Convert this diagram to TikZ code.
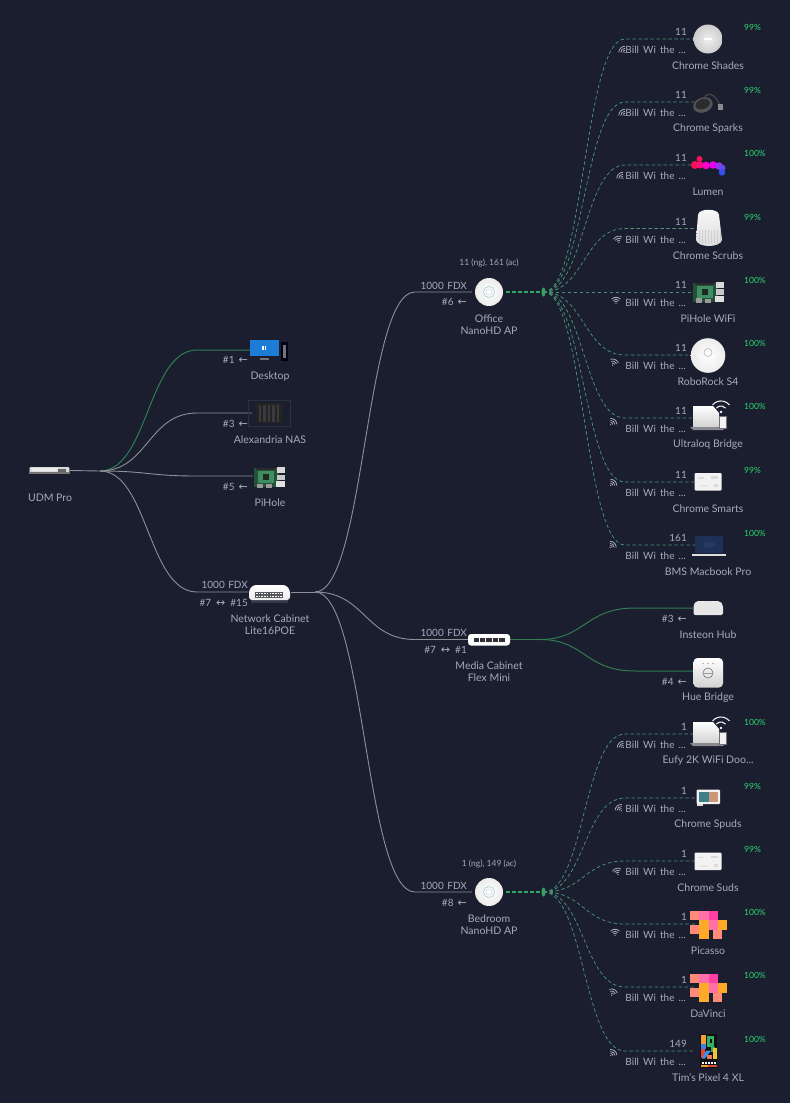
\documentclass[tikz,border=0pt]{standalone}
\usepackage{fontspec}
\setmainfont{Lato}
\newfontfamily\arrowfont{DejaVu Sans}
\usetikzlibrary{calc}
\definecolor{bgc}{HTML}{1A1E2E}
\definecolor{txt}{HTML}{A6AABC}
\definecolor{wire}{HTML}{8E9098}
\definecolor{gwire}{HTML}{2F7D52}
\definecolor{dwire}{HTML}{4A9274}
\definecolor{rootg}{HTML}{2FA865}
\definecolor{pct}{HTML}{2ED573}
\tikzset{
  x=1pt,y=-1pt,
  hx/.code={\definecolor{tmpc}{HTML}{#1}\pgfkeysalso{/tikz/color=tmpc}},
  lbl/.style={text=txt,font=\fontsize{10.5}{12}\selectfont,inner sep=0pt,anchor=center,yshift=-1pt},
  small/.style={text=txt,font=\fontsize{10}{11}\selectfont,inner sep=0pt},
  note/.style={text=txt,font=\fontsize{8.5}{10}\selectfont,inner sep=0pt,anchor=center},
  pctlbl/.style={text=pct,font=\fontsize{8.5}{10}\selectfont,inner sep=0pt,anchor=west},
  portlbl/.style={small,anchor=east,yshift=-0.7pt},
  iconbox/.style={inner sep=0pt,minimum width=#1,minimum height=6pt},
  link/.style={wire,line width=0.9pt},
  glink/.style={gwire,line width=1pt},
  dlink/.style={dwire,line width=0.75pt,dash pattern=on 3.5pt off 2.5pt},
  droot/.style={rootg,line width=1.1pt,dash pattern=on 4pt off 2pt},
  wifiarc/.style={txt,line width=0.8pt},
}
% wifi fan, centred at #1,#2, rotated by #3
\newcommand{\wifi}[3]{\begin{scope}[shift={(#1,#2)},rotate=#3]
\fill[txt] (0,3.5) circle (0.7pt);
\foreach \r in {2.2,4.2,6.2}{\draw[wifiarc] (-\r*0.707,3.5-\r*0.707) arc[start angle=135,end angle=45,radius=\r pt];}
\end{scope}}
% client with dashed link
\newcommand{\client}[9]{% id, root, y, count, percent, name, wifi x, wifi y, wifi rot
  \node[iconbox=26pt] (#1) at (708,#3) {};
  \draw[dlink] (#2.center) .. controls (584,\csname root#2\endcsname) and (584,#3) .. (625,#3) -- (#1.west);
  \node[small,anchor=east] (#1c) at (687,#3-7) {#4};
  \node[small,anchor=east] (#1b) at (686,#3+11) {Bill\hspace{4.2pt}Wi\hspace{4.2pt}the\hspace{4.2pt}...};
  \node[pctlbl] (#1p) at (744,#3-11.5) {#5};
  \node[lbl] (#1l) at (708,#3+26) {#6};
  \wifi{#7}{#8}{#9}
}
\def\rootofficeknot{292}
\def\rootbedknot{892}
\newcommand{\larrow}{{\arrowfont\fontsize{11}{11}\selectfont ←}}
\newcommand{\barrow}{{\arrowfont\fontsize{11}{11}\selectfont ↔}}
\newcommand{\portarrow}[4]{\node[portlbl] (#1) at (#2,#3) {#4\hspace{4pt}\larrow};}
\begin{document}
\begin{tikzpicture}
\useasboundingbox (0,0) rectangle (790,1103);
\fill[bgc] (0,0) rectangle (790,1103);

% === node anchors ===
\node[iconbox=41pt] (udm) at (49.5,470.5) {};
\coordinate (udmfan) at (100,471);
\node[iconbox=38pt] (desk) at (269,350) {};
\node[iconbox=38pt] (nas) at (271,413) {};
\node[iconbox=32pt] (pi) at (269,476) {};
\node[iconbox=42pt] (net) at (269.5,592) {};
\coordinate (netfan) at (315,592);
\node[iconbox=34pt] (office) at (489,292) {};
\node[iconbox=42pt] (media) at (489,639.5) {};
\node[iconbox=34pt] (bed) at (489,892) {};
\node[inner sep=0pt,minimum size=3pt] (officeknot) at (543.5,292) {};
\node[inner sep=0pt,minimum size=3pt] (bedknot) at (543.5,892) {};
\coordinate (mediafan) at (540,639.5);
\node[iconbox=30pt] (inst) at (708,608) {};
\node[iconbox=30pt] (hue) at (708,671) {};

% === wired links ===
\draw[link] (udm.east) -- (udmfan);
\draw[glink] (udmfan) .. controls (148,471) and (148,350) .. (197,350) -- (desk.west);
\draw[link] (udmfan) .. controls (148,471) and (148,413) .. (197,413) -- (nas.west);
\draw[link] (udmfan) .. controls (148,471) and (148,476) .. (197,476) -- (pi.west);
\draw[link] (udmfan) .. controls (148,471) and (148,592) .. (197,592) -- (net.west);
\draw[link] (net.east) -- (netfan);
\draw[link] (netfan) .. controls (365,592) and (365,292) .. (415,292) -- (office.west);
\draw[link] (netfan) .. controls (365,592) and (365,639.5) .. (415,639.5) -- (media.west);
\draw[link] (netfan) .. controls (365,592) and (365,892) .. (415,892) -- (bed.west);
\draw[glink,line width=1.3pt] (media.east) -- (mediafan);
\draw[glink] (mediafan) .. controls (585,639.5) and (585,608) .. (635,608) -- (inst.west);
\draw[glink] (mediafan) .. controls (585,639.5) and (585,671) .. (635,671) -- (hue.west);
\draw[droot] (office.east) -- (officeknot);
\draw[droot] (bed.east) -- (bedknot);
\fill[rootg] (officeknot) ellipse (2pt and 4.5pt);
\fill[rootg] (bedknot) ellipse (2pt and 4.5pt);

% === wired clients, labels ===
\node[lbl] (udml) at (50,497) {UDM Pro};
\portarrow{deskp}{248}{359}{\#1}
\node[lbl] (deskl) at (270,376) {Desktop};
\portarrow{nasp}{248}{423}{\#3}
\node[lbl] (nasl) at (270,439) {Alexandria NAS};
\portarrow{pip}{248}{486}{\#5}
\node[lbl] (pil) at (270,502) {PiHole};
\node[portlbl] (nets) at (248,584) {1000\hspace{3.5pt}FDX};
\node[portlbl] (netp) at (248,602) {\#7\hspace{5pt}\barrow\hspace{5pt}\#15};
\node[lbl] (netl) at (270,618) {Network Cabinet};
\node[lbl] (netm) at (270,630) {Lite16POE};
\node[note] (offc) at (489,262.5) {11 (ng), 161 (ac)};
\node[portlbl] (offs) at (467,285) {1000\hspace{3.5pt}FDX};
\portarrow{offp}{467}{301}{\#6}
\node[lbl] (offl) at (489,318) {Office};
\node[lbl] (offm) at (489,329.5) {NanoHD AP};
\node[portlbl] (meds) at (467,632.5) {1000\hspace{3.5pt}FDX};
\node[portlbl] (medp) at (467,649.5) {\#7\hspace{5pt}\barrow\hspace{5pt}\#1};
\node[lbl] (medl) at (489,665) {Media Cabinet};
\node[lbl] (medm) at (489,677) {Flex Mini};
\node[note] (bedc) at (489,863.5) {1 (ng), 149 (ac)};
\node[portlbl] (beds) at (467,885) {1000\hspace{3.5pt}FDX};
\portarrow{bedp}{467}{902}{\#8}
\node[lbl] (bedl) at (489,918) {Bedroom};
\node[lbl] (bedm) at (489,930) {NanoHD AP};
\portarrow{instp}{687}{618}{\#3}
\node[lbl] (instl) at (708,634) {Insteon Hub};
\portarrow{huep}{687}{681}{\#4}
\node[lbl] (huel) at (708,697) {Hue Bridge};

% === wireless clients ===
\client{c1}{officeknot}{39}{11}{99\%}{Chrome Shades}{622.5}{50}{45}
\client{c2}{officeknot}{102}{11}{99\%}{Chrome Sparks}{622.5}{113}{45}
\client{c3}{officeknot}{165}{11}{100\%}{Lumen}{620.5}{176}{45}
\client{c4}{officeknot}{228.5}{11}{99\%}{Chrome Scrubs}{618}{239}{15}
\client{c5}{officeknot}{292}{11}{100\%}{PiHole WiFi}{616}{300}{0}
\client{c6}{officeknot}{355}{11}{100\%}{RoboRock S4}{614}{362}{-25}
\client{c7}{officeknot}{418}{11}{100\%}{Ultraloq Bridge}{613}{422}{-42}
\client{c8}{officeknot}{482}{11}{99\%}{Chrome Smarts}{613}{483}{-45}
\client{c9}{officeknot}{545}{161}{100\%}{BMS Macbook Pro}{612.5}{545}{-45}
\client{d1}{bedknot}{734}{1}{100\%}{Eufy 2K WiFi Doo...}{621}{745}{45}
\client{d2}{bedknot}{798}{1}{99\%}{Chrome Spuds}{619}{808}{40}
\client{d3}{bedknot}{861}{1}{99\%}{Chrome Suds}{617}{871}{15}
\client{d4}{bedknot}{924}{1}{100\%}{Picasso}{615}{932}{0}
\client{d5}{bedknot}{987}{1}{100\%}{DaVinci}{613}{992}{-25}
\client{d6}{bedknot}{1051}{149}{100\%}{Tim's Pixel 4 XL}{613}{1053}{-40}

% === icons ===
\begin{scope}[shift={(29,466)}]% UDM
\fill[black!55] (0,2) rectangle (41,7.5);
\fill[white!70!gray] (1,1) rectangle (40,6.3);
\fill[white!85!gray] (3,1.5) rectangle (28,5);
\fill[black!60] (29,3) rectangle (37,5.5);
\end{scope}
% Desktop
\fill[black!90!blue] (281,342) rectangle (288,361);
\fill[black!55] (283,345) rectangle (286,358);
\fill[hx=1C7CD6] (250,340) rectangle (279,356);
\fill[black!55] (260,358) rectangle (269,359.5);
\fill[white] (262,346) rectangle (266,350);
\fill[hx=1C7CD6] (263.8,345) rectangle (264.2,351);
% NAS
\draw[hx=2C3040,line width=0.5pt] (248,400) rectangle (290,426);
\fill[hx=232325] (256,403) rectangle (283,423);
\foreach \i in {258.5,263,267.5,272,276.5}{\fill[hx=3A3A3C] (\i,405) rectangle (\i+2.8,422);}
% Raspberry Pi
\newcommand{\rpi}[2]{\begin{scope}[shift={(#1,#2)}]
\fill[hx=25503A] (0,1) rectangle (25,20);
\fill[hx=3E8E62] (4,4) rectangle (20,16);
\fill[hx=2A2A2A] (2,1) rectangle (21,3);
\fill[hx=1F2A24] (9,7) rectangle (15,13);
\fill[hx=D8D8D8] (23,0) rectangle (31,6);
\fill[hx=C8C8C8] (23,7.5) rectangle (31,13);
\fill[hx=E0E0E0] (22,14) rectangle (31,20);
\fill[hx=9A9A9A] (3,16.5) rectangle (9,21);
\fill[hx=9A9A9A] (12,17) rectangle (18,21);
\end{scope}}
\rpi{254}{467}
% Network switch
\shade[top color=white,bottom color=white!85!gray,rounded corners=3pt] (249,600) -- (249,590) -- (253,585) -- (286,585) -- (290,590) -- (290,600) -- cycle;
\fill[white,opacity=.12] (251,600) rectangle (288,603);
\fill[hx=55585E] (255,592) rectangle (283,598);
\foreach \i in {256,258.7,...,281}{\fill[white!70] (\i,593) rectangle (\i+1.6,594.3);\fill[white!70] (\i,595.5) rectangle (\i+1.6,596.8);}
% AP circles
\newcommand{\apicon}[2]{\shade[inner color=white,outer color=white!85!gray] (#1,#2) circle (14pt);
\draw[hx=A8CBD8,line width=0.6pt] (#1,#2) circle (5.5pt);
\draw[hx=C8DDE6,line width=0.5pt] (#1,#2) circle (3pt);}
\apicon{489}{292}
\apicon{489}{892}
% Media flex mini
\fill[white,rounded corners=3pt] (468,634) rectangle (510,645.5);
\foreach \i in {473.5,479.9,486.3,492.7,499.1}{\fill[hx=303034] (\i,637.5) rectangle (\i+5.5,642);}
% Insteon
\fill[hx=E6E6E6,rounded corners=2pt] (693.5,615) -- (693.5,605) -- (696,601) -- (720,601) -- (723,605) -- (723,615) -- cycle;
% Hue
\shade[top color=white,bottom color=white!65!gray,rounded corners=4pt] (693.5,658) rectangle (723,687.5);
\draw[black!50,line width=0.7pt] (708,673) circle (5pt);
\fill[black!40] (703.5,672.7) rectangle (712.5,674);
\foreach \i in {703,708,713}{\fill[black!50] (\i,663.5) circle (0.6pt);}
% Shades
\shade[inner color=white!88!gray,outer color=white!60!gray] (708,39) circle (14.5pt);
\fill[white] (704,38.4) rectangle (712,39.6);
% Sparks
\draw[hx=2A2A2C,line width=2pt] (704,97) .. controls (711,90) and (716,97) .. (721,107);
\draw[hx=5A5A5E,line width=0.5pt] (705,96.5) .. controls (711,91) and (716,97) .. (720.5,106);
\fill[hx=545457,rotate around={20:(703,105)}] (703,105) ellipse (10pt and 7.5pt);
\fill[hx=2C2C2E,rotate around={20:(703,105)}] (703,104) ellipse (7.5pt and 5pt);
\fill[hx=8A8A8E] (718,104) rectangle (723,110);
% Lumen blobs
\fill[hx=FF1050] (695,165) circle (4pt);
\fill[hx=FF1050] (699.5,159) circle (3pt);
\fill[hx=FF0A80] (700,165) circle (3.5pt);
\fill[hx=FF00D0] (706,165.5) circle (3.8pt);
\fill[hx=E800F0] (713,165) circle (3.8pt);
\fill[hx=9A30F0] (719,166) circle (3.8pt);
\fill[hx=6A48F0] (722,168) circle (3.5pt);
\fill[hx=3050F0] (722,172.5) circle (3.2pt);
% Scrubs
\shade[top color=white!95!gray,bottom color=white!72!gray] (698,215) .. controls (698,208) and (719,208) .. (719,215) -- (722,240) .. controls (720,248) and (698,248) .. (696,240) -- cycle;
\foreach \i in {699,702,...,720}{\draw[black!25!white,opacity=.6,line width=0.3pt] (\i,230) -- (\i,243);}
% PiHole WiFi
\rpi{693}{281.5}
% RoboRock
\shade[inner color=white,outer color=white!85!gray] (708,355.5) circle (17.3pt);
\draw[black!25!white,line width=0.7pt] (708,352.5) circle (4pt);
% Laptop-wifi icon
\newcommand{\lapwifi}[2]{\begin{scope}[shift={(#1,#2)}]
\shade[top color=white,bottom color=white!65!gray] (-15,-13) -- (5,-13) -- (11,-6) -- (11,8) -- (-15,8) -- cycle;
\fill[hx=8A8A90] (-18,8) -- (18,8) -- (15,11) -- (-15,11) -- cycle;
\fill[hx=707076] (11,-3) rectangle (19,10);
\fill[white!90!gray] (12,-2) rectangle (18,9);
\draw[white!85!gray,line width=1.1pt] (8.4,-10.9) arc[start angle=140,end angle=40,radius=6pt];
\draw[white!85!gray,line width=1.1pt] (4.6,-14.1) arc[start angle=140,end angle=40,radius=11pt];
\fill[white] (13,-7) circle (1.3pt);
\end{scope}}
\lapwifi{708}{419}
\lapwifi{708}{735}
% Smart display
\newcommand{\smartd}[2]{\begin{scope}[shift={(#1,#2)}]
\fill[white!90!gray,rounded corners=1pt] (-13.5,-9) rectangle (13.5,8.5);
\fill[white!72!gray] (-10,-5) rectangle (-4,-3.5);
\fill[white!70!gray] (3,-6) rectangle (10,-3.5);
\fill[white!82!gray] (-9,3) rectangle (0,5);
\fill[white!72!gray] (6,2) rectangle (10,5);
\end{scope}}
\smartd{708}{482}
\smartd{708}{861.5}
% Macbook
\fill[hx=1D3055] (694.5,536) rectangle (723,553);
\fill[hx=263A62] (703,545) .. controls (706,540) and (712,540) .. (716,545) .. controls (712,549) and (706,549) .. (703,545) -- cycle;
\fill[white!75!gray] (691.5,554.3) rectangle (726,555.5);
% Spuds
\fill[white!90!gray,rounded corners=1pt] (696.5,789.5) rectangle (720,804);
\fill[hx=3F7F8C] (698.5,791.5) rectangle (709,802);
\fill[hx=C89878] (709,791.5) rectangle (718,802);
\fill[white!75!gray] (697,804) rectangle (703,806);
% Pixel tiles
\newcommand{\tiles}[2]{\begin{scope}[shift={(#1,#2)}]
\definecolor{tsal}{HTML}{FF8A78}\definecolor{tpnk}{HTML}{FF6FA8}\definecolor{tmag}{HTML}{FF3FA5}\definecolor{torg}{HTML}{FFA928}
\fill[tsal] (0,0) rectangle (9.3,9.3);\fill[tpnk] (9.3,0) rectangle (18.6,9.3);\fill[tmag] (18.6,0) rectangle (27.9,9.3);
\fill[tpnk] (18.6,9.3) rectangle (27.9,18.6);\fill[torg] (9.3,9.3) rectangle (18.6,18.6);\fill[torg] (27.9,9.3) rectangle (37.2,18.6);
\fill[tsal] (0,14) rectangle (9.3,23);\fill[torg] (9.3,18.6) rectangle (18.6,27.9);\fill[tsal] (23,18.6) rectangle (32.3,27.9);
\end{scope}}
\tiles{690}{911}
\tiles{690}{974}
% Pixel phone
\begin{scope}[shift={(700,1033.5)}]
\fill[hx=101012] (0,0) rectangle (17,34.5);
\fill[hx=F0A030] (1,1.5) rectangle (6,10);
\fill[hx=4080E0] (1,10) rectangle (6,15);
\fill[hx=30B060] (7,2) rectangle (14,13);
\fill[hx=30B060] (11,13) rectangle (15,18);
\fill[hx=101012] (10,5) rectangle (12,9);
\fill[hx=E04838] (1,15) rectangle (5,24);
\fill[hx=4090E8] (6,17) -- (11,17) -- (5,25) -- (2,25) -- cycle;
\fill[hx=F4C430] (13,14) rectangle (16.5,25);
\fill[hx=E87860] (7,21) -- (12,21) -- (12,25) -- (7,25) -- cycle;
\foreach \i in {2,5,8,11,14}{\fill[white] (\i,28) rectangle (\i+2,30);}
\fill[hx=F0A030] (1,31) rectangle (8,33.5);
\fill[hx=E04838] (8,31) rectangle (16.5,33.5);
\end{scope}
\end{tikzpicture}
\end{document}
